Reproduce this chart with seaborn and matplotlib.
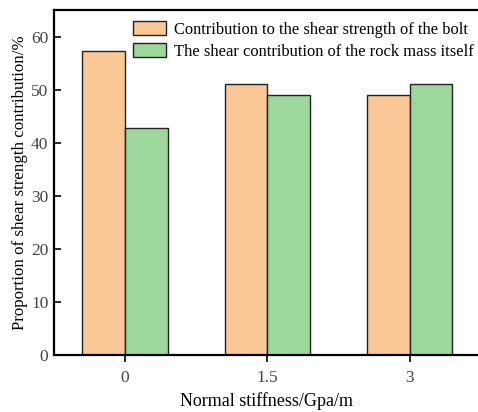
import matplotlib
matplotlib.use("Agg")
import matplotlib.pyplot as plt
import seaborn as sns
import pandas as pd

stiffness = ["0", "1.5", "3"]
bolt_share = [57.3, 51.0, 49.0]
rock_share = [42.7, 49.0, 51.0]
series_names = ["Contribution to the shear strength of the bolt",
                "The shear contribution of the rock mass itself"]
yticks = [0, 10, 20, 30, 40, 50, 60]

df = pd.DataFrame({
    "stiffness": stiffness * 2,
    "share": bolt_share + rock_share,
    "series": [series_names[0]] * 3 + [series_names[1]] * 3,
})

sns.set_theme(style="white")
plt.rcParams["font.family"] = ["Liberation Serif", "DejaVu Serif"]

fig = plt.figure(figsize=(4.78, 4.12), dpi=100)
ax = fig.add_axes([54 / 478, 57 / 412, 1 - 54 / 478, (355 - 10) / 412])

palette = {series_names[0]: "#F9C896", series_names[1]: "#9ED79B"}
sns.barplot(data=df, x="stiffness", y="share", hue="series", order=stiffness,
            hue_order=series_names, palette=palette, width=0.6,
            edgecolor="#222222", linewidth=1.0, saturation=1, ax=ax)

ax.set_xlim(-0.5, 2.48)
ax.set_ylim(0, 65)
ax.set_yticks(yticks)
ax.tick_params(axis="y", direction="in", length=5, width=1.2, labelsize=12.5,
               labelcolor="#444444", color="black", left=True, pad=4)
ax.tick_params(axis="x", direction="out", length=5, width=1.2, labelsize=12.5,
               labelcolor="#444444", color="black", bottom=True, pad=6)

for side in ["left", "bottom", "top"]:
    ax.spines[side].set_visible(True)
    ax.spines[side].set_color("black")
    ax.spines[side].set_linewidth(1.6)
ax.spines["right"].set_visible(False)

ax.set_xlabel("Normal stiffness/Gpa/m", fontsize=13, color="black", labelpad=4)
ax.set_ylabel("Proportion of shear strength contribution/%", fontsize=12.2,
              color="black", labelpad=2)

leg = ax.legend(loc="upper left", bbox_to_anchor=((133 - 54) / 424, (355 - 21) / 345),
                frameon=False, fontsize=11.9, handlelength=2.0, handleheight=0.95,
                handletextpad=0.5, labelspacing=0.3, borderpad=0, borderaxespad=0)
for t in leg.get_texts():
    t.set_color("black")

fig.savefig("out.png", dpi=100)
